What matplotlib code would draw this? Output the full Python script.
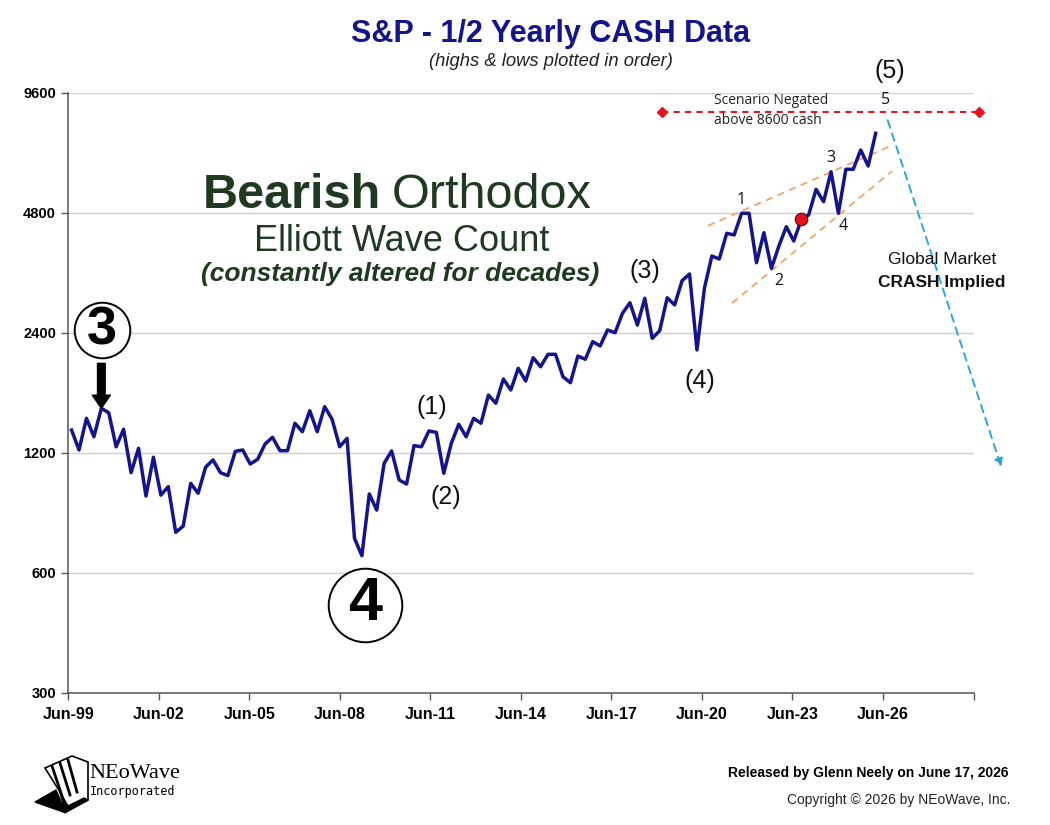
import numpy as np
import pandas as pd
import matplotlib
matplotlib.use("Agg")
import matplotlib.pyplot as plt
from matplotlib import font_manager
from matplotlib.transforms import offset_copy
from matplotlib.patches import Polygon

# ---------------- data ----------------
# S&P 500 half-yearly highs & lows, plotted in order
values = [1370, 1221, 1466, 1318, 1553, 1514, 1244, 1376, 1071, 1233,
          936, 1171, 941, 988, 759, 787, 1007, 951, 1105, 1153,
          1071, 1053, 1212, 1221, 1126, 1157, 1264, 1314, 1216, 1216,
          1425, 1357, 1532, 1357, 1568, 1458, 1244, 1306, 733, 663,
          947, 863, 1131, 1214, 1027, 1003, 1252, 1244, 1363, 1352,
          1067, 1269, 1416, 1318, 1466, 1425, 1677, 1599, 1840, 1727,
          1957, 1819, 2081, 1975, 2122, 2122, 1864, 1801, 2101, 2062,
          2283, 2227, 2443, 2404, 2689, 2859, 2513, 2933, 2327, 2432,
          2942, 2822, 3247, 3375, 2176, 3107, 3744, 3680, 4269, 4227,
          4792, 4792, 3602, 4284, 3487, 3967, 4435, 4083, 4610, 4745,
          5504, 5124, 6093, 4792, 6180, 6180, 6907, 6297, 7606]
first_date = "1999-08-10"
last_date = "2026-04-05"

y_ticks = [300, 600, 1200, 2400, 4800, 9600]
x_tick_years = [1999.5, 2002.5, 2005.5, 2008.5, 2011.5, 2014.5, 2017.5,
                2020.5, 2023.5, 2026.5, 2029.5]
x_tick_labels = ["Jun-99", "Jun-02", "Jun-05", "Jun-08", "Jun-11", "Jun-14",
                 "Jun-17", "Jun-20", "Jun-23", "Jun-26", ""]

negation_level = 8600
negation_span = [2019.18, 2029.67]
upper_channel = ([2020.70, 2026.83], [4460, 7110])
lower_channel = ([2021.50, 2026.80], [2853, 6117])
crash_path = ([2026.63, 2030.45], [8320, 1090])
red_dot_index = 98
red_dot_value = 4640

# wave labels: (text, point index, dx px, dy px)
major_waves = [("(1)", 48, 3, 24), ("(2)", 50, 2, -24),
               ("(3)", 77, 0, 27), ("(4)", 84, 3, -31)]
minor_waves = [("1", 90, 0, 13), ("2", 94, 7, -13),
               ("3", 102, 0, 14), ("4", 103, 5, -13)]

# ---------------- helpers ----------------
dts = pd.date_range(first_date, last_date, periods=len(values))
dates = np.array([d.year + (d.dayofyear - 1) / 365.25 for d in dts])
vals = np.array(values, dtype=float)

names = {f.name for f in font_manager.fontManager.ttflist}
HAS_NARROW = "Liberation Sans Narrow" in names
NARROW = ["Liberation Sans Narrow", "Liberation Sans", "DejaVu Sans"]
SANS = ["Liberation Sans", "DejaVu Sans"]
plt.rcParams["font.family"] = SANS

W, H = 1050, 825
fig = plt.figure(figsize=(W / 100, H / 100), dpi=100)
fig.patch.set_facecolor("white")

ax_left, ax_right, ax_bottom, ax_top = 68.4, 973.5, 693, 93
ax = fig.add_axes([ax_left / W, 1 - ax_bottom / H,
                   (ax_right - ax_left) / W, (ax_bottom - ax_top) / H])


def ftxt(xp, yp, s, **kw):
    return fig.text(xp / W, 1 - yp / H, s, **kw)


navy = "#14148c"
green = "#1f3a20"

ax.set_yscale("log", base=2)
ax.set_ylim(y_ticks[0], y_ticks[-1])
ax.set_xlim(x_tick_years[0], x_tick_years[-1])
ax.set_yticks(y_ticks)
ax.set_yticklabels([str(v) for v in y_ticks], fontsize=10.5, fontweight="bold")
ax.yaxis.set_minor_locator(matplotlib.ticker.NullLocator())
ax.set_xticks(x_tick_years)
if HAS_NARROW:
    ax.set_xticklabels(x_tick_labels, fontsize=13, fontweight="bold",
                       family=NARROW)
else:
    ax.set_xticklabels(x_tick_labels, fontsize=11.5, fontweight="bold")
ax.tick_params(axis="y", length=5, width=1, color="#555555", pad=4)
ax.tick_params(axis="x", length=5, width=1, color="#555555", pad=5)
ax.grid(axis="y", color="#cfcfcf", lw=1)
ax.set_axisbelow(True)
for s in ["top", "right"]:
    ax.spines[s].set_visible(False)
for s in ["left", "bottom"]:
    ax.spines[s].set_color("#555555")
    ax.spines[s].set_linewidth(1.1)

# main series
ax.plot(dates, vals, color=navy, lw=2.5, zorder=5)

# red dot
ax.plot(dates[red_dot_index], red_dot_value, "o", ms=9, mfc="#e8101a",
        mec="#600000", mew=0.8, zorder=7)

# channel lines
ax.plot(*upper_channel, ls=(0, (4, 3)), color="#f2a468", lw=1.3, zorder=4)
ax.plot(*lower_channel, ls=(0, (4, 3)), color="#f2a468", lw=1.3, zorder=4)

# negation line
ax.plot(negation_span, [negation_level] * 2, ls=(0, (3, 2.5)), color="#e8141c",
        lw=1.5, clip_on=False, zorder=4)
ax.plot(negation_span, [negation_level] * 2, ls="none", marker="D", ms=5,
        color="#e8141c", clip_on=False, zorder=4)

# crash projection
ax.annotate("", xy=(crash_path[0][1], crash_path[1][1]),
            xytext=(crash_path[0][0], crash_path[1][0]),
            arrowprops=dict(arrowstyle="-|>", ls=(0, (4, 3)), color="#2aa6dc",
                            lw=1.4, mutation_scale=12),
            annotation_clip=False, zorder=4)

# wave labels
for s, i, dx, dy in major_waves:
    ax.annotate(s, xy=(dates[i], vals[i]), xytext=(dx, dy),
                textcoords="offset pixels", ha="center", va="center",
                fontsize=18, color="#111111", family=SANS)
for s, i, dx, dy in minor_waves:
    ax.annotate(s, xy=(dates[i], vals[i]), xytext=(dx, dy),
                textcoords="offset pixels", ha="center", va="center",
                fontsize=11.5, color="#111111", family=["Open Sans"] + SANS)
ax.annotate("5", xy=(crash_path[0][0], crash_path[1][0]), xytext=(-1, 18),
            textcoords="offset pixels", ha="center", va="center",
            fontsize=11.5, color="#111111", family=["Open Sans"] + SANS,
            annotation_clip=False)
ax.annotate("(5)", xy=(crash_path[0][0], crash_path[1][0]), xytext=(3, 47),
            textcoords="offset pixels", ha="center", va="center",
            fontsize=18, color="#111111", annotation_clip=False)

# circled 3 and arrow
i3 = 4
tr3 = offset_copy(ax.transData, fig=fig, x=0.5, y=78, units="dots")
ax.plot(dates[i3], vals[i3], "o", ms=40, mfc="white", mec="black", mew=1.4,
        transform=tr3, clip_on=False, zorder=6)
ax.text(dates[i3], vals[i3], "3", transform=tr3, ha="center", va="center",
        fontsize=39, fontweight="bold", color="black", zorder=7)
ax.annotate("", xy=(dates[i3], vals[i3]), xytext=(0, 45),
            textcoords="offset pixels",
            arrowprops=dict(width=5.5, headwidth=13, headlength=9.5,
                            color="black", shrink=0.0),
            zorder=6)

# circled 4
i4 = 39
tr4 = offset_copy(ax.transData, fig=fig, x=3, y=-49, units="dots")
ax.plot(dates[i4], vals[i4], "o", ms=53, mfc="white", mec="black", mew=1.4,
        transform=tr4, clip_on=False, zorder=6)
ax.text(dates[i4], vals[i4], "4", transform=tr4, ha="center", va="center",
        fontsize=44, fontweight="bold", color="black", zorder=7)

# ---------------- texts ----------------
ftxt(551, 34, "S&P - 1/2 Yearly CASH Data", ha="center", va="center",
     fontsize=22, fontweight="bold", color=navy)
if HAS_NARROW:
    ftxt(551, 61, "(highs & lows plotted in order)", ha="center", va="center",
         fontsize=16, style="italic", color="#222222", family=NARROW)
else:
    ftxt(551, 61, "(highs & lows plotted in order)", ha="center", va="center",
         fontsize=13.2, style="italic", color="#222222")

ftxt(381, 208, "Bearish", ha="right", va="baseline", fontsize=35,
     fontweight="bold", color=green)
ftxt(392, 208, "Orthodox", ha="left", va="baseline", fontsize=35,
     color=green)
ftxt(402, 251, "Elliott Wave Count", ha="center", va="baseline", fontsize=26,
     color=green)
ftxt(400, 281, "(constantly altered for decades)", ha="center", va="baseline",
     fontsize=19, fontweight="bold", style="italic", color=green)

ftxt(714, 100, "Scenario Negated", ha="left", va="center", fontsize=10,
     color="#222222", family=["Open Sans"] + SANS)
ftxt(714, 121, "above 8600 cash", ha="left", va="center", fontsize=10,
     color="#222222", family=["Open Sans"] + SANS)

ftxt(942, 260, "Global Market", ha="center", va="center", fontsize=12.5,
     color="#111111")
ftxt(942, 283, "CRASH Implied", ha="center", va="center", fontsize=12.5,
     fontweight="bold", color="#111111")

if HAS_NARROW:
    ftxt(1008, 773, "Released by Glenn Neely on June 17, 2026", ha="right",
         va="center", fontsize=12, fontweight="bold", family=NARROW)
    ftxt(1010, 800, "Copyright \u00a9 2026 by NEoWave, Inc.", ha="right",
         va="center", fontsize=12.3, family=NARROW, color="#222222")
else:
    ftxt(1008, 773, "Released by Glenn Neely on June 17, 2026", ha="right",
         va="center", fontsize=10, fontweight="bold")
    ftxt(1010, 800, "Copyright \u00a9 2026 by NEoWave, Inc.", ha="right",
         va="center", fontsize=10, color="#222222")

# ---------------- logo ----------------
lax = fig.add_axes([0, 0, 1, 1], facecolor="none")
lax.set_xlim(0, W)
lax.set_ylim(H, 0)
lax.axis("off")
lax.add_patch(Polygon([(35, 802), (56, 790), (66, 813)], closed=True,
                      fc="black", ec="black"))
lax.add_patch(Polygon([(45, 768), (72, 756), (88, 762), (88, 800), (66, 812),
                       (60, 792)], closed=True, fc="white", ec="black", lw=1.2))
lax.add_patch(Polygon([(60, 792), (66, 812), (88, 800), (84, 798), (68, 806)],
                      closed=True, fc="black", ec="black"))
for (x0, y0, x1, y1) in [(52, 766, 62, 796), (60, 763, 70, 795),
                         (68, 760, 77, 792)]:
    lax.plot([x0, x1], [y0, y1], color="black", lw=2)
ftxt(89, 773, "NEoWave", ha="left", va="center", fontsize=16,
     family=["Liberation Serif", "DejaVu Serif"], color="black")
ftxt(90, 792, "Incorporated", ha="left", va="center", fontsize=8.5,
     family=["DejaVu Sans Mono"], color="black")

fig.savefig("out.png", dpi=100, facecolor="white")
